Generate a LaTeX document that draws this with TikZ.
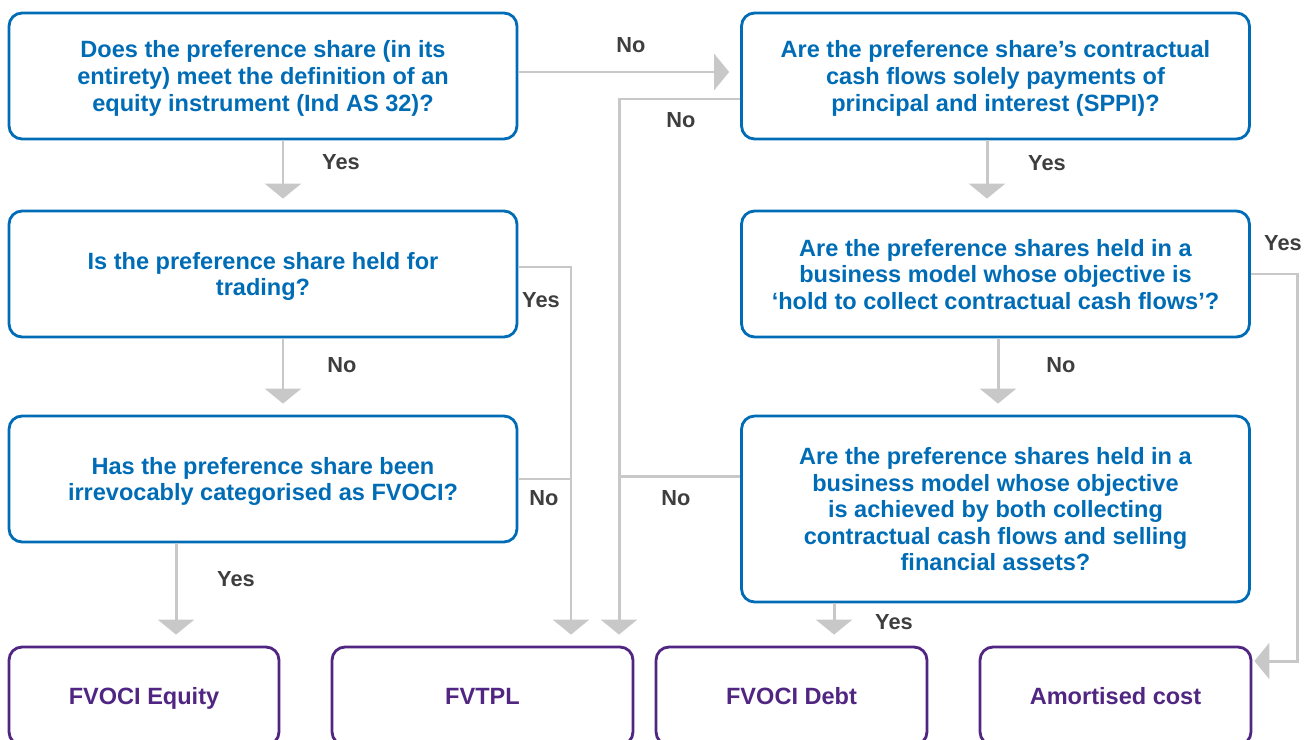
\documentclass[tikz,border=0pt]{standalone}
\usepackage{fontspec}
\setmainfont{Liberation Sans}
\usetikzlibrary{arrows.meta}
\definecolor{qblue}{RGB}{0,108,182}
\definecolor{respurple}{RGB}{80,38,130}
\definecolor{flowgray}{RGB}{200,200,200}
\definecolor{lblgray}{RGB}{62,62,62}
\tikzset{
question/.style={draw=qblue,line width=1.6pt,rounded corners=0.26cm,minimum width=10.16cm,minimum height=2.52cm,align=center,text depth=-4pt,text=qblue,font=\bfseries\fontsize{13.4}{15.1}\selectfont},
result/.style={draw=respurple,line width=1.6pt,rounded corners=0.26cm,minimum height=1.96cm,text height=9.6pt,text depth=0pt,text=respurple,font=\bfseries\fontsize{13.4}{15.1}\selectfont},
flow/.style={draw=flowgray,line width=1.7pt,-{Triangle[width=0.72cm,length=0.3cm]},shorten >=0.22cm},
link/.style={draw=flowgray,line width=1.7pt},
lbl/.style={text=lblgray,font=\bfseries\fontsize{12.4}{14}\selectfont}
}
\begin{document}
\begin{tikzpicture}[x=0.02cm,y=-0.02cm]
\useasboundingbox (0,0) rectangle (1312,740);
\clip (0,0) rectangle (1312,740);

% questions
\node[question] (q1) at (263,76) {Does the preference share (in its\\entirety) meet the definition of an\\equity instrument (Ind AS 32)?};
\node[question] (q2) at (263,274) {Is the preference share held for\\trading?};
\node[question] (q3) at (263,479) {Has the preference share been\\irrevocably categorised as FVOCI?};
\node[question] (q4) at (995.5,76) {Are the preference share's contractual\\cash flows solely payments of\\principal and interest (SPPI)?};
\node[question] (q5) at (995.5,274) {Are the preference shares held in a\\business model whose objective is\\`hold to collect contractual cash flows'?};
\node[question,minimum height=3.72cm,text depth=-9pt] (q6) at (995.5,509) {Are the preference shares held in a\\business model whose objective\\is achieved by both collecting\\contractual cash flows and selling\\financial assets?};

% results
\node[result,minimum width=5.4cm] (eq) at (144,696) {FVOCI Equity};
\node[result,minimum width=6.02cm] (tpl) at (482.5,696) {FVTPL};
\node[result,minimum width=5.42cm] (debt) at (791.5,696) {FVOCI Debt};
\node[result,minimum width=5.42cm] (amc) at (1115.5,696) {Amortised cost};

\coordinate (joinL) at (571,0);
\coordinate (joinR) at (619,0);
\coordinate (sideR) at (1297,0);

% connectors
\draw[flow] ([xshift=0.4cm]q1.south) -- ([xshift=0.4cm]q1.south |- q2.north);
\draw[flow] ([xshift=0.4cm]q2.south) -- ([xshift=0.4cm]q2.south |- q3.north);
\draw[flow] ([xshift=-1.74cm]q3.south) -- ([xshift=-1.74cm]q3.south |- eq.north);
\draw[flow] ([yshift=0.08cm]q1.east) -- ([yshift=0.08cm]q4.west);
\draw[flow] ([yshift=0.14cm]q2.east) -| (joinL |- tpl.north);
\draw[link] (q3.east) -- (q3.east -| joinL);
\draw[flow] ([yshift=-0.46cm]q4.west) -| (joinR |- tpl.north);
\draw[link] ([yshift=0.66cm]q6.west) -- ([yshift=0.66cm]q6.west -| joinR);
\draw[flow] ([xshift=-0.17cm]q4.south) -- ([xshift=-0.17cm]q4.south |- q5.north);
\draw[flow] ([xshift=0.05cm]q5.south) -- ([xshift=0.05cm]q5.south |- q6.north);
\draw[flow] ([xshift=-3.23cm]q6.south) -- ([xshift=-3.23cm]q6.south |- debt.north);
\draw[flow,shorten >=0.04cm] (q5.east) -| ([yshift=0.7cm]sideR |- amc.east) -- ([yshift=0.7cm]amc.east);

% labels
\node[lbl] (n1) at (631,45) {No};
\node[lbl] (n2) at (681,120) {No};
\node[lbl] (y1) at (341,162) {Yes};
\node[lbl] (y2) at (1047,163) {Yes};
\node[lbl] (y3) at (1283,243) {Yes};
\node[lbl] (y4) at (541,300) {Yes};
\node[lbl] (n3) at (342,365) {No};
\node[lbl] (n4) at (1061,365) {No};
\node[lbl] (n5) at (544,498) {No};
\node[lbl] (n6) at (676,498) {No};
\node[lbl] (y5) at (236,579) {Yes};
\node[lbl] (y6) at (894,622) {Yes};

\end{tikzpicture}
\end{document}
